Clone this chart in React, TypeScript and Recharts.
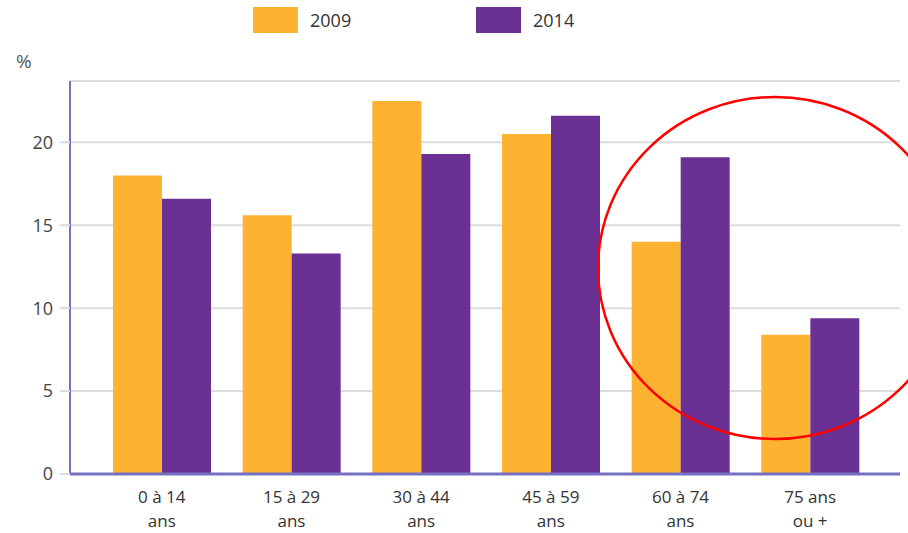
import { BarChart, Bar, XAxis, YAxis, CartesianGrid } from "recharts";

// Age groups (two-line labels)
const categories = ["0 à 14|ans", "15 à 29|ans", "30 à 44|ans", "45 à 59|ans", "60 à 74|ans", "75 ans|ou +"];
const values2009 = [18.0, 15.6, 22.5, 20.5, 14.0, 8.4];
const values2014 = [16.6, 13.3, 19.3, 21.6, 19.1, 9.4];
const yTicks = [0, 5, 10, 15, 20];

const ORANGE = "#fdb232";
const PURPLE = "#6b3094";
const AXIS = "#7670c2";
const FONT = "'Open Sans', sans-serif";

const data = categories.map((c, i) => ({
    name: c,
    y2009: values2009[i],
    y2014: values2014[i],
}));

const AgeTick = ({ x, y, payload }: any) => {
    const [l1, l2] = String(payload.value).split("|");
    return (
        <text x={x} y={y} textAnchor="middle" fill="#333" fontSize={17} fontFamily={FONT}>
            <tspan x={x} dy={21}>{l1}</tspan>
            <tspan x={x} dy={24}>{l2}</tspan>
        </text>
    );
};

export default function App() {
    return (
        <div style={{ position: "absolute", left: 0, top: 0, width: 908, height: 533, overflow: "hidden", background: "#fff", fontFamily: FONT }}>
            {/* Legend */}
            <div style={{ position: "absolute", left: 253, top: 7, width: 45, height: 26, background: ORANGE }} />
            <div style={{ position: "absolute", left: 310, top: 7, lineHeight: "26px", fontSize: 18, color: "#333" }}>2009</div>
            <div style={{ position: "absolute", left: 476, top: 7, width: 45, height: 26, background: PURPLE }} />
            <div style={{ position: "absolute", left: 533, top: 7, lineHeight: "26px", fontSize: 18, color: "#333" }}>2014</div>
            {/* unit */}
            <div style={{ position: "absolute", left: 16, top: 48, fontSize: 19, color: "#555" }}>%</div>

            <BarChart
                width={908}
                height={533}
                data={data}
                margin={{ top: 81, right: 8, bottom: 0, left: 0 }}
                barGap={0}
                barSize={49}
            >
                <CartesianGrid horizontal vertical={false} stroke="#dcdcdc" strokeWidth={2} />
                <XAxis
                    dataKey="name"
                    height={59}
                    padding={{ left: 27, right: 25 }}
                    axisLine={{ stroke: AXIS, strokeWidth: 3 }}
                    tickLine={false}
                    tick={<AgeTick />}
                    interval={0}
                />
                <YAxis
                    width={70}
                    domain={[0, 23.7]}
                    ticks={yTicks}
                    axisLine={{ stroke: AXIS, strokeWidth: 2 }}
                    tickLine={{ stroke: "#dcdcdc", strokeWidth: 2 }}
                    tickSize={10}
                    tickMargin={7}
                    tick={{ fontSize: 18, fill: "#444", fontFamily: FONT }}
                />
                <Bar dataKey="y2009" fill={ORANGE} isAnimationActive={false} />
                <Bar dataKey="y2014" fill={PURPLE} isAnimationActive={false} />
            </BarChart>

            {/* Red annotation circle */}
            <svg width={908} height={533} style={{ position: "absolute", left: 0, top: 0, pointerEvents: "none" }}>
                <ellipse cx={775} cy={268} rx={177} ry={171} fill="none" stroke="#ff0000" strokeWidth={2.5} />
            </svg>
        </div>
    );
}
